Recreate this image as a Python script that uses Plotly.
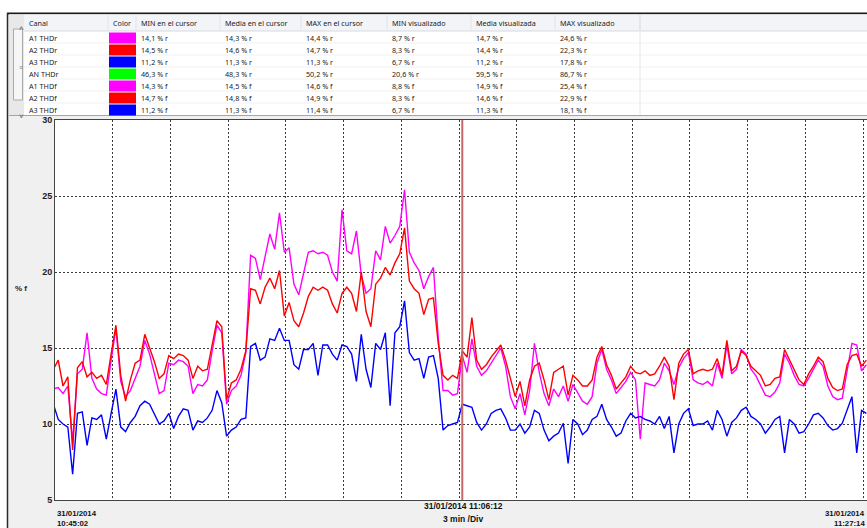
import datetime as dt
import plotly.graph_objects as go

# ---------------------------------------------------------------- data
# Recording window and cursor position
rec_start = dt.datetime(2014, 1, 31, 10, 45, 2)
rec_end = dt.datetime(2014, 1, 31, 11, 27, 14)
cursor_time = dt.datetime(2014, 1, 31, 11, 6, 12)
first_sample = dt.datetime(2014, 1, 31, 10, 44, 57)
sample_seconds = 15
div_minutes = 3

# THD (fundamental-referenced) per phase, % f, one value every 15 s
a1_thdf = [
    12.3, 12.4, 12.0, 12.5, 8.8, 13.3, 13.6, 16.0, 13.0, 12.3,
    12.0, 11.9, 14.2, 16.3, 12.8, 11.8, 12.2, 13.0, 13.8, 15.5,
    14.6, 13.3, 12.0, 12.2, 14.0, 13.9, 14.2, 14.1, 13.8, 12.0,
    12.6, 12.5, 12.9, 14.8, 16.5, 16.0, 11.3, 12.2, 12.5, 13.2,
    14.7, 21.1, 20.9, 19.5, 20.9, 22.5, 21.5, 23.9, 21.3, 21.6,
    19.2, 18.5, 19.9, 21.3, 21.4, 21.2, 21.3, 21.1, 20.0, 19.4,
    24.1, 21.4, 21.2, 22.7, 19.8, 18.6, 18.9, 21.4, 20.8, 23.0,
    21.9, 22.4, 23.0, 25.4, 21.3, 20.6, 20.1, 18.9, 19.7, 20.3,
    15.7, 12.2, 12.2, 11.9, 12.0, 14.5, 13.4, 15.6, 13.8, 13.2,
    13.5, 14.0, 14.5, 15.0, 13.8, 11.8, 11.0, 12.0, 10.6, 12.2,
    15.3, 13.4, 12.0, 11.2, 12.3, 11.8, 12.5, 11.5, 12.6, 12.0,
    11.5, 11.3, 11.8, 14.0, 14.9, 13.6, 12.9, 12.0, 12.4, 12.8,
    13.4, 12.9, 9.0, 12.7, 12.6, 12.5, 12.9, 14.0, 13.5, 12.6,
    13.7, 14.3, 14.7, 12.9, 12.7, 12.6, 12.8, 12.5, 14.0, 13.0,
    15.2, 13.3, 13.6, 14.9, 14.6, 13.6, 13.2, 12.6, 11.9, 11.8,
    12.1, 12.7, 14.6, 14.0, 13.2, 12.6, 12.5, 13.0, 13.6, 14.2,
    13.8, 12.5, 11.8, 11.6, 11.7, 13.6, 15.3, 15.2, 13.5, 13.9,
]

a2_thdf = [
    13.6, 14.2, 12.5, 13.1, 8.3, 13.7, 14.1, 13.1, 13.4, 13.0,
    13.2, 12.6, 14.6, 16.5, 13.2, 11.5, 12.9, 14.0, 14.2, 15.9,
    15.0, 14.1, 13.0, 13.3, 14.5, 14.3, 14.6, 14.5, 14.2, 13.0,
    13.8, 13.5, 13.6, 15.3, 16.8, 16.4, 11.6, 12.7, 12.9, 13.6,
    14.8, 18.9, 18.8, 17.9, 19.0, 19.6, 18.9, 20.1, 17.1, 18.0,
    16.8, 16.4, 17.3, 18.4, 19.0, 18.8, 19.0, 18.8, 17.9, 17.3,
    18.6, 19.0, 18.6, 17.4, 20.0, 17.4, 16.4, 19.2, 19.6, 20.3,
    19.8, 20.6, 21.2, 22.9, 19.4, 18.9, 18.6, 17.2, 18.2, 18.3,
    15.3, 13.2, 12.9, 13.2, 13.0, 14.8, 14.4, 17.0, 14.2, 13.6,
    13.9, 14.4, 14.8, 15.2, 14.2, 12.9, 11.8, 12.8, 11.2, 12.9,
    13.8, 14.0, 12.9, 11.6, 13.4, 13.6, 13.8, 11.9, 13.2, 12.9,
    12.5, 12.5, 12.9, 14.4, 15.1, 13.9, 13.2, 12.3, 12.7, 13.1,
    13.8, 13.4, 13.3, 13.5, 13.2, 13.3, 13.8, 14.4, 13.8, 11.6,
    14.0, 14.6, 14.9, 13.3, 13.5, 13.6, 13.5, 13.6, 14.3, 13.2,
    15.5, 13.5, 13.8, 14.8, 14.5, 13.8, 13.5, 13.2, 12.5, 12.6,
    13.0, 13.1, 14.9, 14.2, 13.5, 12.9, 12.6, 13.3, 13.8, 14.4,
    14.1, 13.0, 12.4, 12.2, 12.3, 13.9, 14.5, 14.6, 13.8, 14.2,
]

a3_thdf = [
    11.3, 10.3, 10.0, 9.8, 6.7, 10.7, 10.8, 8.6, 10.4, 10.3,
    10.6, 9.0, 10.7, 12.3, 9.8, 9.5, 10.1, 10.5, 11.2, 11.5,
    11.3, 10.6, 10.0, 10.2, 10.7, 9.7, 10.5, 11.0, 10.9, 9.6,
    10.2, 10.1, 10.4, 10.9, 12.2, 11.4, 9.2, 9.6, 9.8, 10.3,
    10.4, 15.1, 15.3, 14.2, 14.4, 15.6, 15.5, 16.3, 15.5, 15.5,
    13.9, 13.6, 14.9, 14.9, 15.3, 13.2, 15.2, 15.2, 14.6, 14.2,
    15.2, 15.1, 14.6, 12.8, 15.9, 13.6, 12.4, 15.3, 14.9, 16.0,
    11.2, 16.0, 16.4, 18.1, 14.7, 14.2, 14.3, 13.0, 14.4, 14.5,
    13.0, 9.6, 9.9, 10.0, 10.1, 11.3, 11.2, 11.1, 10.1, 9.6,
    10.0, 10.7, 10.9, 11.0, 10.4, 9.6, 9.6, 10.0, 9.4, 9.8,
    10.9, 10.7, 9.6, 8.9, 9.2, 9.4, 10.05, 7.4, 10.3, 10.0,
    9.3, 9.6, 10.3, 10.5, 11.3, 10.3, 9.8, 9.2, 9.4, 10.2,
    10.7, 10.4, 10.5, 10.3, 10.2, 10.0, 10.5, 9.7, 10.5, 8.1,
    10.0, 10.7, 11.0, 9.9, 10.0, 10.0, 10.2, 9.6, 10.9, 10.3,
    9.2, 10.1, 10.4, 10.9, 11.1, 10.5, 10.3, 10.0, 9.4, 9.8,
    10.3, 10.5, 8.1, 10.3, 10.0, 9.4, 9.5, 10.0, 10.6, 10.7,
    10.4, 9.9, 9.6, 9.7, 10.05, 11.0, 11.8, 8.1, 10.9, 10.7,
]

# Channel summary table
table_headers = ["Canal", "Color", "MIN en el cursor", "Media en el cursor",
                 "MAX en el cursor", "MIN visualizado", "Media visualizada",
                 "MAX visualizado"]
canal = ["A1 THDr", "A2 THDr", "A3 THDr", "AN THDr", "A1 THDf", "A2 THDf", "A3 THDf"]
canal_color = ["#ff00ff", "#ff0000", "#0000ff", "#00ff00", "#ff00ff", "#ff0000", "#0000ff"]
min_cursor = ["14,1 % r", "14,5 % r", "11,2 % r", "46,3 % r", "14,3 % f", "14,7 % f", "11,2 % f"]
media_cursor = ["14,3 % r", "14,6 % r", "11,3 % r", "48,3 % r", "14,5 % f", "14,8 % f", "11,3 % f"]
max_cursor = ["14,4 % r", "14,7 % r", "11,3 % r", "50,2 % r", "14,6 % f", "14,9 % f", "11,4 % f"]
min_vis = ["8,7 % r", "8,3 % r", "6,7 % r", "20,6 % r", "8,8 % f", "8,3 % f", "6,7 % f"]
media_vis = ["14,7 % r", "14,4 % r", "11,2 % r", "59,5 % r", "14,9 % f", "14,6 % f", "11,3 % f"]
max_vis = ["24,6 % r", "22,3 % r", "17,8 % r", "86,7 % r", "25,4 % f", "22,9 % f", "18,1 % f"]

# ---------------------------------------------------------------- layout helpers
W, H = 867, 528
ML, MR, MT, MB = 55, 0, 120, 28
PW, PH = W - ML - MR, H - MT - MB


def px(xp):
    """Horizontal pixel -> paper fraction."""
    return (xp - ML) / PW


def py(yp):
    """Vertical pixel (from top) -> paper fraction."""
    return 1 - (yp - MT) / PH


def fmt(t):
    return t.strftime("%Y-%m-%d %H:%M:%S")


times = [fmt(first_sample + dt.timedelta(seconds=sample_seconds * i))
         for i in range(len(a1_thdf))]

fig = go.Figure()
series = [("A1 THDf", a1_thdf, canal_color[4]),
          ("A2 THDf", a2_thdf, canal_color[5]),
          ("A3 THDf", a3_thdf, canal_color[6])]
for name, vals, col in series:
    fig.add_trace(go.Scatter(x=times, y=vals, name=name, mode="lines",
                             line=dict(color=col, width=1.4),
                             hoverinfo="skip"))

shapes = []
annotations = []
TXT = dict(family="Noto Sans, Open Sans, sans-serif", size=7.2, color="#222222")
BOLD = dict(family="Liberation Sans, Arial, sans-serif", size=8.5, color="#111111",
            weight="bold")
BOLD_SMALL = dict(BOLD, size=7.8)


def rect(x0, y0, x1, y1, fill, line=None, lw=0):
    shapes.append(dict(type="rect", xref="paper", yref="paper",
                       x0=px(x0), x1=px(x1), y0=py(y0), y1=py(y1),
                       fillcolor=fill, line=dict(color=line or fill, width=lw),
                       layer="above"))


def hline(x0, x1, y, color, w=1):
    shapes.append(dict(type="line", xref="paper", yref="paper",
                       x0=px(x0), x1=px(x1), y0=py(y), y1=py(y),
                       line=dict(color=color, width=w), layer="above"))


def vline(x, y0, y1, color, w=1):
    shapes.append(dict(type="line", xref="paper", yref="paper",
                       x0=px(x), x1=px(x), y0=py(y0), y1=py(y1),
                       line=dict(color=color, width=w), layer="above"))


def label(x, y, text, font, xanchor="left"):
    annotations.append(dict(xref="paper", yref="paper", x=px(x), y=py(y),
                            text=text, showarrow=False, xanchor=xanchor,
                            yanchor="middle", font=font, borderpad=0))


# window frame
rect(0, 0, W, 13, "#ffffff")
rect(0, 13, 7, H, "#ffffff")
hline(7, W, 13.5, "#1a1a1a", 2)
vline(7.5, 13, H, "#2a2a2a", 1.5)

# table body
rect(9, 14.5, W, 115, "#ffffff")
rect(24, 14.5, W, 31, "#f2f4f7")
hline(24, W, 31, "#d6dbe1")
for i in range(1, len(canal)):
    hline(24, W, 31 + 12 * i, "#f1f1f1")
col_x = [28, 112, 140, 224, 305, 391, 475, 559]
for xs in col_x[1:]:
    vline(xs - 4, 15, 30, "#e2e5ea")
vline(640, 15, 115, "#e6e6e6")
vline(640, 15, 30, "#dcdfe4")
hline(9, W, 115.5, "#a5a5a5")

# scroll bar
rect(9, 14.5, 24, 115, "#e8e8e8")
rect(13.5, 29, 22.5, 100, "#f6f6f6", "#aaaaaa", 1)
annotations.append(dict(xref="paper", yref="paper", x=px(18), y=py(21), text="\u02c4",
                        showarrow=False, font=dict(size=8, color="#555"), borderpad=0))
annotations.append(dict(xref="paper", yref="paper", x=px(18), y=py(109), text="\u02c5",
                        showarrow=False, font=dict(size=8, color="#555"), borderpad=0))
annotations.append(dict(xref="paper", yref="paper", x=px(18), y=py(62), text="\u2261",
                        showarrow=False, font=dict(size=7, color="#888"), borderpad=0))

# header and cells
for h, xs in zip(table_headers, col_x):
    label(xs, 23, h, TXT)
columns = [canal, None, min_cursor, media_cursor, max_cursor, min_vis, media_vis, max_vis]
for r in range(len(canal)):
    yc = 38 + 12 * r
    rect(109, yc - 5.5, 136, yc + 5.5, canal_color[r])
    for col, xs in zip(columns, col_x):
        if col is not None:
            label(xs, yc, col[r], TXT)

# cursor
shapes.append(dict(type="line", xref="x", yref="paper",
                   x0=fmt(cursor_time), x1=fmt(cursor_time), y0=0, y1=1,
                   line=dict(color="#c96868", width=2), layer="above"))

# axis captions
annotations.append(dict(xref="paper", yref="paper", x=px(13), y=py(288), text="% f",
                        showarrow=False, xanchor="left", yanchor="middle",
                        font=dict(family="Liberation Sans, Arial", size=8, color="#222",
                                  weight="bold")))


def time_caption(t, y, text, xanchor, font, xshift=0):
    annotations.append(dict(xref="x", yref="paper", x=fmt(t), y=py(y), text=text,
                            showarrow=False, xanchor=xanchor, yanchor="middle",
                            font=font, borderpad=0, xshift=xshift))


# start of the visible window
time_caption(rec_start, 513.5, rec_start.strftime("%d/%m/%Y"), "left", BOLD_SMALL, 1)
time_caption(rec_start, 523, rec_start.strftime("%H:%M:%S"), "left", BOLD_SMALL, 1)
# cursor time and time base
time_caption(cursor_time, 506, cursor_time.strftime("%d/%m/%Y %H:%M:%S"), "center", BOLD, 1)
time_caption(cursor_time, 518.5, f"{div_minutes} min /Div", "center", BOLD, 1)
# end of the visible window
time_caption(rec_end, 513.5, rec_end.strftime("%d/%m/%Y"), "right", BOLD_SMALL, -1)
time_caption(rec_end, 523, rec_end.strftime("%H:%M:%S"), "right", BOLD_SMALL, -1)

fig.update_layout(
    width=W, height=H,
    margin=dict(l=ML, r=MR, t=MT, b=MB, pad=0),
    paper_bgcolor="#f0f0f0", plot_bgcolor="#ffffff",
    showlegend=False, hovermode=False,
    shapes=shapes, annotations=annotations,
    xaxis=dict(type="date", range=[fmt(rec_start), fmt(rec_end)],
               tick0=fmt(rec_start), dtick=div_minutes * 60000,
               showticklabels=False, ticks="",
               showgrid=True, gridcolor="#3a3a3a", gridwidth=1, griddash="2px,2px",
               showline=True, linecolor="#444444", linewidth=1, mirror=True,
               zeroline=False, fixedrange=True),
    yaxis=dict(range=[5, 30], tick0=5, dtick=5, ticks="",
               showgrid=True, gridcolor="#3a3a3a", gridwidth=1, griddash="2px,2px",
               showline=True, linecolor="#444444", linewidth=1, mirror=False,
               zeroline=False, fixedrange=True,
               tickfont=dict(family="Liberation Sans, Arial", size=9, color="#222",
                             weight="bold")),
)

fig.write_html("out.html", config={"displayModeBar": False})
